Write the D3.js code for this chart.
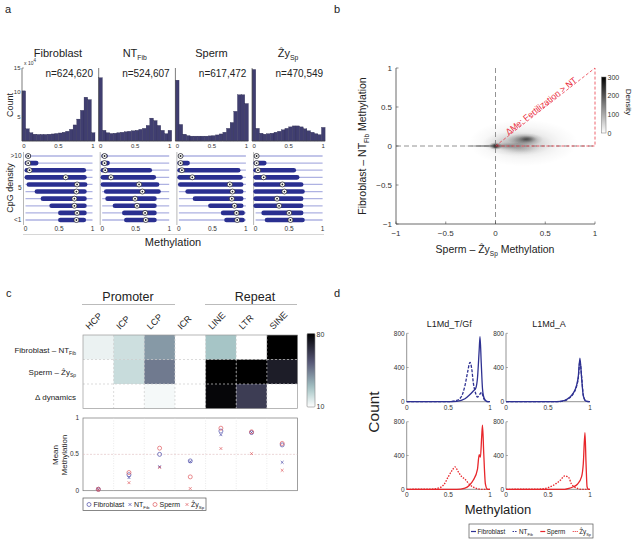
<!DOCTYPE html>
<html><head><meta charset="utf-8">
<script src="https://cdn.jsdelivr.net/npm/d3@7"></script>
<style>body{margin:0;background:#fff} svg{display:block} text{font-family:"Liberation Sans",Arial,Helvetica,sans-serif}</style>
</head><body><svg id="c" width="637" height="541"></svg>
<script>
// ---------------- DATA ----------------
// Panel a : histograms (x10^4), 20 bins over 0..1
const histTicks = [5, 10, 15];
const histFib   = [10.3,2.5,1.7,1.4,1.35,1.35,1.35,1.4,1.45,1.55,1.65,1.8,2.0,2.4,3.3,4.5,6.3,9.0,8.5,1.7];
const histNT    = [13.0,2.2,1.7,1.55,1.6,1.7,1.8,1.9,2.0,2.1,2.2,2.4,2.6,3.2,4.7,4.2,3.2,2.2,1.5,2.2];
const histSperm = [12.5,3.4,1.4,1.1,1.0,1.0,1.0,1.0,1.0,1.05,1.1,1.25,1.45,1.8,2.6,3.8,6.1,9.5,9.5,7.7];
const histZy    = [14.7,2.6,1.6,1.4,1.5,1.6,1.8,2.0,2.3,2.6,2.9,3.1,3.1,2.9,2.5,2.1,1.8,1.5,1.3,2.8];
const histN     = ["n=624,620","n=524,607","n=617,472","n=470,549"];
// Panel a : CpG density rows (top ">10" .. bottom "<1"): [low, high, median]
const cpgLabels = [">10","5","<1"];
const cpgFib   = [[0.03,0.05,0.04],[0.02,0.16,0.04],[0.02,0.87,0.06],[0.02,0.88,0.6],[0.05,0.89,0.77],[0.17,0.88,0.76],[0.26,0.88,0.73],[0.39,0.88,0.73],[0.52,0.88,0.77],[0.52,0.87,0.76]];
const cpgNT    = [[0.02,0.05,0.035],[0.01,0.08,0.035],[0.01,0.71,0.045],[0.01,0.77,0.13],[0.01,0.82,0.55],[0.06,0.84,0.6],[0.08,0.78,0.49],[0.19,0.78,0.52],[0.33,0.78,0.64],[0.36,0.78,0.65]];
const cpgSperm = [[0.02,0.03,0.025],[0.01,0.13,0.025],[0.01,0.885,0.045],[0.01,0.92,0.2],[0.02,0.93,0.76],[0.13,0.93,0.8],[0.24,0.93,0.79],[0.47,0.93,0.83],[0.66,0.95,0.86],[0.71,0.95,0.87]];
const cpgZy    = [[0.01,0.02,0.015],[0.0,0.13,0.015],[0.0,0.57,0.035],[0.0,0.62,0.12],[0.0,0.68,0.4],[0.0,0.7,0.43],[0.0,0.68,0.32],[0.0,0.68,0.35],[0.12,0.68,0.5],[0.17,0.7,0.52]];
// Panel b : density blobs  [x, y, rx, ry, density]
const bTicks = [-1,-0.5,0,0.5,1];
const densityBlobs = [
  [0.28,0.04,0.55,0.30,45],
  [0.22,0.03,0.36,0.16,70],
  [0.25,-0.03,0.20,0.08,40],
  [0.30,0.085,0.18,0.08,140],
  [0.32,0.09,0.09,0.045,100],
  [0.10,0.0,0.22,0.05,80],
  [-0.12,0.0,0.22,0.018,170],
  [0.0,0.0,0.07,0.05,250],
  [0.0,0.0,0.03,0.03,300]
];
const densityTicks = [0,100,200,300];
// Panel c : heatmap
const hmCols = ["HCP","ICP","LCP","ICR","LINE","LTR","SINE"];
const hmFibNT    = [14, 20, 38, null, 28, null, 80];
const hmSpermZy  = [null, 21, 45, null, 80, 80, 71];
const hmDelta    = [null, null, 12, null, 78, 61, null];
const hmTicks = [10, 80];
// Panel c : mean methylation
const dotFib   = [0.02, 0.22, 0.50, 0.41, 0.82, 0.80, 0.63];
const dotNT    = [0.02, 0.18, 0.33, 0.40, 0.77, 0.80, 0.39];
const dotSperm = [0.02, 0.25, 0.585, 0.19, 0.86, 0.81, 0.65];
const dotZy    = [0.01, 0.11, 0.32, 0.03, 0.58, 0.51, 0.28];
const dotTicks = [0, 0.5, 1];
// Panel d : methylation count profiles [methylation, count]
const dTitles = ["L1Md_T/Gf","L1Md_A"];
const dTfFib   = [[0,0],[0.5,0],[0.6,5],[0.7,35],[0.75,75],[0.8,125],[0.83,160],[0.85,280],[0.87,600],[0.88,760],[0.895,450],[0.91,150],[0.93,40],[0.96,5],[1,0]];
const dTfNT    = [[0,0],[0.5,0],[0.6,15],[0.65,50],[0.7,190],[0.73,340],[0.76,460],[0.78,390],[0.8,220],[0.83,90],[0.85,55],[0.88,90],[0.9,110],[0.92,50],[0.95,5],[1,0]];
const dAFib    = [[0,0],[0.6,0],[0.7,15],[0.75,45],[0.8,100],[0.84,190],[0.86,290],[0.88,510],[0.9,280],[0.92,70],[0.95,8],[1,0]];
const dANT     = [[0,0],[0.6,0],[0.7,12],[0.75,40],[0.8,90],[0.84,180],[0.86,270],[0.88,470],[0.9,300],[0.92,80],[0.95,8],[1,0]];
const dTfSperm = [[0,0],[0.6,0],[0.7,15],[0.75,45],[0.8,110],[0.85,240],[0.87,410],[0.885,380],[0.9,620],[0.91,760],[0.925,420],[0.945,60],[0.97,0],[1,0]];
const dTfZy    = [[0,0],[0.3,3],[0.4,20],[0.45,60],[0.5,150],[0.55,230],[0.58,265],[0.62,205],[0.66,150],[0.7,120],[0.75,60],[0.8,25],[0.85,8],[0.9,0],[1,0]];
const dASperm  = [[0,0],[0.7,0],[0.75,10],[0.8,30],[0.85,60],[0.9,150],[0.92,300],[0.94,670],[0.953,300],[0.965,30],[0.98,0],[1,0]];
const dAZy     = [[0,0],[0.4,3],[0.5,20],[0.6,70],[0.65,110],[0.7,160],[0.73,150],[0.75,135],[0.78,60],[0.8,40],[0.85,10],[0.9,0],[1,0]];
const dXTicks = [0, 0.5, 1];
const dYTicks = [0, 400, 800];

// ---------------- HELPERS ----------------
const svg = d3.select("#c");
const AX = "#444";
const BLUE = "#2e3192", RED = "#e8262b";
function rich(parent, x, y, parts, size, anchor, fill) {
  const t = parent.append("text").attr("x", x).attr("y", y).attr("font-size", size)
    .attr("text-anchor", anchor || "start").attr("fill", fill || "#222");
  let inSub = false;
  parts.forEach(p => {
    const ts = t.append("tspan").text(p.t);
    if (p.sub && !inSub) { ts.attr("font-size", size * 0.62).attr("dy", size * 0.28); inSub = true; }
    else if (p.sub) { ts.attr("font-size", size * 0.62); }
    else if (!p.sub && inSub) { ts.attr("dy", -size * 0.28); inSub = false; }
  });
  return t;
}
function lbl(x, y, txt, size, anchor, extra) {
  const t = svg.append("text").attr("x", x).attr("y", y).attr("font-size", size)
    .attr("text-anchor", anchor || "start").attr("fill", "#222").text(txt);
  if (extra) extra(t);
  return t;
}
function boneRev(t) { // reversed MATLAB bone colormap: t=0 white, t=1 black
  const u = 1 - Math.max(0, Math.min(1, t));
  const cl = v => Math.max(0, Math.min(1, v));
  const hr = cl(u / 0.375), hg = cl((u - 0.375) / 0.375), hb = cl((u - 0.75) / 0.25);
  const r = (7 * u + hb) / 8, g = (7 * u + hg) / 8, b = (7 * u + hr) / 8;
  return d3.rgb(r * 255, g * 255, b * 255).toString();
}
const defs = svg.append("defs");

// panel letters
lbl(5, 13, "a", 11); lbl(334, 13, "b", 11); lbl(6, 297, "c", 11); lbl(334, 297, "d", 11);

// ---------------- PANEL A ----------------
const aPanels = [
  {title: [{t: "Fibroblast"}], bins: histFib, cpg: cpgFib},
  {title: [{t: "NT"}, {t: "Fib", sub: true}], bins: histNT, cpg: cpgNT},
  {title: [{t: "Sperm"}], bins: histSperm, cpg: cpgSperm},
  {title: [{t: "Ẑy"}, {t: "Sp", sub: true}], bins: histZy, cpg: cpgZy}
];
const hy = d3.scaleLinear([0, 15], [141, 68]);
const cy = d3.scaleLinear([0, 9], [156, 220]);
aPanels.forEach((p, i) => {
  const x0 = 22 + i * 76.7;
  const hx = d3.scaleLinear([0, 1], [x0, x0 + 73]);
  const g = svg.append("g");
  rich(g, x0 + 36, 57, p.title, 11, "middle");
  g.append("text").attr("x", x0 + 71).attr("y", 77).attr("font-size", 10).attr("text-anchor", "end")
    .attr("fill", "#222").text(histN[i]);
  g.selectAll("rect.bar").data(p.bins).join("rect")
    .attr("x", (d, k) => hx(k * 0.05)).attr("width", hx(0.05) - hx(0))
    .attr("y", d => hy(d)).attr("height", d => hy(0) - hy(d))
    .attr("fill", "#403e70").attr("stroke", "#26254a").attr("stroke-width", 0.3);
  g.append("line").attr("x1", x0).attr("x2", x0).attr("y1", 68).attr("y2", 141).attr("stroke", AX).attr("stroke-width", 0.7);
  g.append("line").attr("x1", x0).attr("x2", x0 + 73).attr("y1", 141).attr("y2", 141).attr("stroke", AX).attr("stroke-width", 0.7);
  g.selectAll("text.xt").data([0, 0.5, 1]).join("text")
    .attr("x", d => hx(d) + (d === 0 ? 2 : d === 1 ? -2 : 0)).attr("y", 148).attr("font-size", 6)
    .attr("text-anchor", "middle").attr("fill", "#333").text(d => d);
  if (i === 0) {
    g.selectAll("text.yt").data(histTicks).join("text")
      .attr("x", x0 - 1.5).attr("y", d => hy(d) + 2).attr("font-size", 6).attr("text-anchor", "end")
      .attr("fill", "#333").text(d => d);
    g.selectAll("line.yt").data(histTicks).join("line")
      .attr("x1", x0).attr("x2", x0 + 2).attr("y1", d => hy(d)).attr("y2", d => hy(d)).attr("stroke", AX).attr("stroke-width", 0.5);
    const t = g.append("text").attr("x", x0 + 2).attr("y", 65).attr("font-size", 5).attr("fill", "#333");
    t.append("tspan").text("x 10");
    t.append("tspan").text("4").attr("dy", -3).attr("font-size", 4.5);
  }
  // CpG density rows
  const cx = d3.scaleLinear([0, 1], [x0 + 3.5, x0 + 70.5]);
  g.append("line").attr("x1", x0 + 1.5).attr("x2", x0 + 1.5).attr("y1", 152).attr("y2", 225).attr("stroke", "#999").attr("stroke-width", 0.7);
  g.selectAll("line.thin").data(p.cpg).join("line")
    .attr("x1", cx(0)).attr("x2", cx(1)).attr("y1", (d, k) => cy(k)).attr("y2", (d, k) => cy(k))
    .attr("stroke", "#aeb2e2").attr("stroke-width", 1.3);
  g.selectAll("line.thick").data(p.cpg).join("line")
    .attr("x1", d => cx(d[0])).attr("x2", d => cx(d[1])).attr("y1", (d, k) => cy(k)).attr("y2", (d, k) => cy(k))
    .attr("stroke", "#2a2f90").attr("stroke-width", 4.6).attr("stroke-linecap", "round");
  g.selectAll("circle.med").data(p.cpg).join("circle")
    .attr("cx", d => cx(d[2])).attr("cy", (d, k) => cy(k)).attr("r", 2.5)
    .attr("fill", "#fff").attr("stroke", "#222").attr("stroke-width", 0.7);
  g.selectAll("circle.dot").data(p.cpg).join("circle")
    .attr("cx", d => cx(d[2])).attr("cy", (d, k) => cy(k)).attr("r", 0.9).attr("fill", "#222");
  g.selectAll("text.cxt").data([0, 0.5, 1]).join("text")
    .attr("x", d => cx(d)).attr("y", 231).attr("font-size", 6.5).attr("text-anchor", "middle")
    .attr("fill", "#333").text(d => d);
  if (i === 0) {
    g.selectAll("text.cyt").data(cpgLabels).join("text")
      .attr("x", x0 - 0.5).attr("y", (d, k) => [cy(0), cy(4.5), cy(9)][k] + 2.2).attr("font-size", 6.5)
      .attr("text-anchor", "end").attr("fill", "#333").text(d => d);
  }
});
svg.append("line").attr("x1", 23).attr("x2", 324).attr("y1", 234.5).attr("y2", 234.5).attr("stroke", "#ccc").attr("stroke-width", 0.8);
lbl(10, 105, "Count", 9, "middle", t => t.attr("transform", "rotate(-90,10,105)").attr("dy", 3));
lbl(10, 188, "CpG density", 9, "middle", t => t.attr("transform", "rotate(-90,10,188)").attr("dy", 3));
lbl(173, 246, "Methylation", 11, "middle");

// ---------------- PANEL B ----------------
const bx = d3.scaleLinear([-1, 1], [396, 595]);
const by = d3.scaleLinear([-1, 1], [224, 68]);
const gb = svg.append("g");
const grad = defs.append("radialGradient").attr("id", "blob");
grad.append("stop").attr("offset", "0%").attr("stop-color", "#000").attr("stop-opacity", 1);
grad.append("stop").attr("offset", "35%").attr("stop-color", "#000").attr("stop-opacity", 0.62);
grad.append("stop").attr("offset", "70%").attr("stop-color", "#000").attr("stop-opacity", 0.2);
grad.append("stop").attr("offset", "100%").attr("stop-color", "#000").attr("stop-opacity", 0);
defs.append("clipPath").attr("id", "bclip").append("rect").attr("x", 396).attr("y", 68).attr("width", 199).attr("height", 156);
const dens = d3.scaleLinear([0, 300], [0, 1]);
gb.append("g").attr("clip-path", "url(#bclip)").selectAll("ellipse").data(densityBlobs).join("ellipse")
  .attr("cx", d => bx(d[0])).attr("cy", d => by(d[1]))
  .attr("rx", d => bx(d[2]) - bx(0)).attr("ry", d => by(0) - by(d[3]))
  .attr("fill", "url(#blob)").attr("opacity", d => Math.min(1, dens(d[4])));
// dashed zero lines
gb.append("line").attr("x1", bx(0)).attr("x2", bx(0)).attr("y1", by(1)).attr("y2", by(-1))
  .attr("stroke", "#777").attr("stroke-width", 0.8).attr("stroke-dasharray", "5,3");
gb.append("line").attr("x1", bx(-1)).attr("x2", bx(1)).attr("y1", by(0)).attr("y2", by(0))
  .attr("stroke", "#777").attr("stroke-width", 0.8).attr("stroke-dasharray", "5,3");
// red triangle
gb.append("path").attr("d", d3.line()([[bx(0), by(0)], [bx(1), by(1)], [bx(1), by(0)], [bx(0), by(0)]]))
  .attr("fill", "none").attr("stroke", "#ea3a48").attr("stroke-width", 0.8).attr("stroke-dasharray", "3,2");
const ang = -Math.atan2(by(0) - by(1), bx(1) - bx(0)) * 180 / Math.PI;
const tx0 = bx(0.13), ty0 = by(0.13) - 0.5;
gb.append("text").attr("x", tx0).attr("y", ty0).attr("font-size", 8.6).attr("fill", "#ea2a3a")
  .attr("transform", `rotate(${ang},${tx0},${ty0})`).text("ΔMe: Fertilization > NT");
// axes
gb.append("line").attr("x1", 396).attr("x2", 396).attr("y1", 68).attr("y2", 224).attr("stroke", AX).attr("stroke-width", 0.8);
gb.append("line").attr("x1", 396).attr("x2", 595).attr("y1", 224).attr("y2", 224).attr("stroke", AX).attr("stroke-width", 0.8);
const fmt = d => (d < 0 ? "−" : "") + Math.abs(d);
gb.selectAll("text.bxt").data(bTicks).join("text").attr("x", d => bx(d)).attr("y", 236).attr("font-size", 8)
  .attr("text-anchor", "middle").attr("fill", "#333").text(fmt);
gb.selectAll("text.byt").data(bTicks).join("text").attr("x", 392).attr("y", d => by(d) + 3).attr("font-size", 8)
  .attr("text-anchor", "end").attr("fill", "#333").text(fmt);
gb.selectAll("line.bxt").data(bTicks).join("line").attr("x1", d => bx(d)).attr("x2", d => bx(d)).attr("y1", 224).attr("y2", 221.5).attr("stroke", AX).attr("stroke-width", 0.6);
gb.selectAll("line.byt").data(bTicks).join("line").attr("x1", 396).attr("x2", 398.5).attr("y1", d => by(d)).attr("y2", d => by(d)).attr("stroke", AX).attr("stroke-width", 0.6);
rich(gb, 495, 253, [{t: "Sperm – Ẑy"}, {t: "Sp", sub: true}, {t: " Methylation"}], 10.5, "middle");
rich(gb, 0, 0, [{t: "Fibroblast – NT"}, {t: "Fib", sub: true}, {t: " Methylation"}], 10.5, "middle")
  .attr("transform", "translate(366,146) rotate(-90)");
// density colorbar
const lgB = defs.append("linearGradient").attr("id", "gbar").attr("x1", 0).attr("y1", 1).attr("x2", 0).attr("y2", 0);
lgB.append("stop").attr("offset", "0%").attr("stop-color", "#fff");
lgB.append("stop").attr("offset", "100%").attr("stop-color", "#000");
const dcy = d3.scaleLinear([0, 300], [133, 77]);
gb.append("rect").attr("x", 601.5).attr("y", 77).attr("width", 4.5).attr("height", 56).attr("fill", "url(#gbar)")
  .attr("stroke", "#777").attr("stroke-width", 0.5);
gb.selectAll("text.cb").data(densityTicks).join("text").attr("x", 607.5).attr("y", d => dcy(d) + 2.5)
  .attr("font-size", 7).attr("fill", "#333").text(d => d);
lbl(0, 0, "Density", 8, "middle", t => t.attr("transform", "translate(626,102) rotate(90)"));

// ---------------- PANEL C ----------------
const hx = d3.scaleBand(hmCols, [83, 297.5]);
const hmRowsData = [hmFibNT, hmSpermZy, hmDelta];
const hyc = d3.scaleBand([0, 1, 2], [335, 408.5]);
const gc = svg.append("g");
lbl(128, 301, "Promoter", 12.5, "middle");
lbl(255, 301, "Repeat", 12.5, "middle");
gc.append("line").attr("x1", 82).attr("x2", 175).attr("y1", 304.5).attr("y2", 304.5).attr("stroke", "#aaa").attr("stroke-width", 0.8);
gc.append("line").attr("x1", 205).attr("x2", 297).attr("y1", 304.5).attr("y2", 304.5).attr("stroke", "#aaa").attr("stroke-width", 0.8);
hmCols.forEach(c => {
  const x = hx(c) + hx.bandwidth() / 2 - 9, y = 330;
  gc.append("text").attr("x", x).attr("y", y).attr("font-size", 9).attr("fill", "#222")
    .attr("transform", `rotate(-45,${x},${y})`).text(c);
});
const hmColor = v => v == null ? "#fff" : boneRev((v - 10) / 70);
hmRowsData.forEach((row, r) => {
  gc.selectAll(null).data(row).join("rect")
    .attr("x", (d, k) => hx(hmCols[k])).attr("y", hyc(r)).attr("width", hx.bandwidth() + 0.3).attr("height", hyc.bandwidth() + 0.3)
    .attr("fill", d => hmColor(d));
});
// grid
gc.selectAll("line.vg").data(hmCols.slice(1)).join("line").attr("x1", d => hx(d)).attr("x2", d => hx(d))
  .attr("y1", 335).attr("y2", 408.5).attr("stroke", "#ccc").attr("stroke-width", 0.7).attr("stroke-dasharray", "2,2");
gc.selectAll("line.hg").data([1, 2]).join("line").attr("x1", 83).attr("x2", 297.5).attr("y1", d => hyc(d)).attr("y2", d => hyc(d))
  .attr("stroke", "#ccc").attr("stroke-width", 0.7).attr("stroke-dasharray", "2,2");
gc.append("rect").attr("x", 83).attr("y", 335).attr("width", 214.5).attr("height", 73.5).attr("fill", "none").attr("stroke", "#999").attr("stroke-width", 0.7);
rich(gc, 76, 353, [{t: "Fibroblast – NT"}, {t: "Fib", sub: true}], 8, "end");
rich(gc, 76, 375, [{t: "Sperm – Ẑy"}, {t: "Sp", sub: true}], 8, "end");
rich(gc, 76, 399.5, [{t: "Δ dynamics"}], 8, "end");
// heatmap colorbar
const lgC = defs.append("linearGradient").attr("id", "cbar").attr("x1", 0).attr("y1", 1).attr("x2", 0).attr("y2", 0);
d3.range(0, 1.001, 0.1).forEach(t => lgC.append("stop").attr("offset", (t * 100) + "%").attr("stop-color", boneRev(t)));
gc.append("rect").attr("x", 307).attr("y", 333.5).attr("width", 8).attr("height", 73.5).attr("rx", 1)
  .attr("fill", "url(#cbar)").attr("stroke", "#888").attr("stroke-width", 0.6);
const ccy = d3.scaleLinear([10, 80], [407, 333.5]);
gc.selectAll("text.cct").data(hmTicks).join("text").attr("x", 316.5).attr("y", d => ccy(d) + (d === 80 ? 3.5 : 1.5))
  .attr("font-size", 7).attr("fill", "#333").text(d => d);
// dot plot
const dy = d3.scaleLinear([0, 1], [490.7, 418]);
gc.append("rect").attr("x", 83).attr("y", 418).attr("width", 214.5).attr("height", 72.7).attr("fill", "none").attr("stroke", "#777").attr("stroke-width", 0.7);
gc.selectAll("line.dvg").data(hmCols.slice(1)).join("line").attr("x1", d => hx(d)).attr("x2", d => hx(d))
  .attr("y1", 418).attr("y2", 490.7).attr("stroke", "#ddd").attr("stroke-width", 0.6).attr("stroke-dasharray", "1,1.5");
gc.append("line").attr("x1", 83).attr("x2", 297.5).attr("y1", dy(0.5)).attr("y2", dy(0.5)).attr("stroke", "#dcb8bc").attr("stroke-width", 0.6).attr("stroke-dasharray", "2,1.5");
gc.selectAll("text.dyt").data(dotTicks).join("text").attr("x", 79).attr("y", d => dy(d) + 2).attr("font-size", 6.5)
  .attr("text-anchor", "end").attr("fill", "#333").text(d => d);
lbl(0, 0, "Mean", 8, "middle", t => t.attr("transform", "translate(58,455) rotate(-90)"));
lbl(0, 0, "Methylation", 8, "middle", t => t.attr("transform", "translate(66.5,455) rotate(-90)"));
const BLU2 = "#4a4aa8", RED2 = "#e05a5e";
const cxc = k => hx(hmCols[k]) + hx.bandwidth() / 2;
function circles(data, col) {
  gc.selectAll(null).data(data).join("circle").attr("cx", (d, k) => cxc(k)).attr("cy", d => dy(d)).attr("r", 2)
    .attr("fill", "none").attr("stroke", col).attr("stroke-width", 0.7);
}
function crosses(data, col) {
  gc.selectAll(null).data(data).join("path")
    .attr("d", (d, k) => { const x = cxc(k), y = dy(d), s = 1.4; return `M${x - s},${y - s}L${x + s},${y + s}M${x - s},${y + s}L${x + s},${y - s}`; })
    .attr("stroke", col).attr("stroke-width", 0.7);
}
circles(dotFib, BLU2); crosses(dotNT, BLU2); circles(dotSperm, RED2); crosses(dotZy, RED2);
// legend
gc.append("rect").attr("x", 83).attr("y", 498).attr("width", 123).attr("height", 12.5).attr("fill", "#fff").attr("stroke", "#555").attr("stroke-width", 0.7);
const ly = 504.5;
gc.append("circle").attr("cx", 89).attr("cy", ly).attr("r", 2).attr("fill", "none").attr("stroke", BLU2).attr("stroke-width", 0.7);
rich(gc, 93.5, ly + 2.5, [{t: "Fibroblast"}], 7, "start");
gc.append("path").attr("d", `M128.6,${ly - 1.4}L131.4,${ly + 1.4}M128.6,${ly + 1.4}L131.4,${ly - 1.4}`).attr("stroke", BLU2).attr("stroke-width", 0.7);
rich(gc, 134, ly + 2.5, [{t: "NT"}, {t: "Fib", sub: true}], 7, "start");
gc.append("circle").attr("cx", 155).attr("cy", ly).attr("r", 2).attr("fill", "none").attr("stroke", RED2).attr("stroke-width", 0.7);
rich(gc, 159.5, ly + 2.5, [{t: "Sperm"}], 7, "start");
gc.append("path").attr("d", `M185.6,${ly - 1.4}L188.4,${ly + 1.4}M185.6,${ly + 1.4}L188.4,${ly - 1.4}`).attr("stroke", RED2).attr("stroke-width", 0.7);
rich(gc, 191, ly + 2.5, [{t: "Ẑy"}, {t: "Sp", sub: true}], 7, "start");

// ---------------- PANEL D ----------------
const gd = svg.append("g");
const dPanels = [
  {col: 0, row: 0, series: [[dTfFib, BLUE, null], [dTfNT, BLUE, "3,1.5"]]},
  {col: 1, row: 0, series: [[dAFib, BLUE, null], [dANT, BLUE, "3,1.5"]]},
  {col: 0, row: 1, series: [[dTfSperm, RED, null], [dTfZy, RED, "1.5,1.3"]]},
  {col: 1, row: 1, series: [[dASperm, RED, null], [dAZy, RED, "1.5,1.3"]]}
];
const dxR = [[406.7, 490], [506, 590]];
const dyR = [[401.7, 333.3], [489.3, 421.7]];
dPanels.forEach(p => {
  const x = d3.scaleLinear([0, 1], dxR[p.col]);
  const y = d3.scaleLinear([0, 800], dyR[p.row]);
  const g = gd.append("g");
  g.append("line").attr("x1", x(0)).attr("x2", x(0)).attr("y1", y(0)).attr("y2", y(800)).attr("stroke", "#666").attr("stroke-width", 0.7);
  g.append("line").attr("x1", x(0)).attr("x2", x(1)).attr("y1", y(0)).attr("y2", y(0)).attr("stroke", "#666").attr("stroke-width", 0.7);
  g.selectAll("text.xt").data(dXTicks).join("text").attr("x", d => x(d)).attr("y", y(0) + 8).attr("font-size", 6.5)
    .attr("text-anchor", "middle").attr("fill", "#333").text(d => d);
  g.selectAll("text.yt").data(dYTicks).join("text").attr("x", x(0) - 2).attr("y", d => y(d) + 2.2).attr("font-size", 6.5)
    .attr("text-anchor", "end").attr("fill", "#333").text(d => d);
  g.selectAll("line.yt").data(dYTicks).join("line").attr("x1", x(0)).attr("x2", x(0) + 2).attr("y1", d => y(d)).attr("y2", d => y(d)).attr("stroke", "#666").attr("stroke-width", 0.5);
  const line = d3.line().x(d => x(d[0])).y(d => y(d[1])).curve(d3.curveMonotoneX);
  p.series.forEach(s => {
    g.append("path").attr("d", line(s[0])).attr("fill", "none").attr("stroke", s[1]).attr("stroke-width", 1.3)
      .attr("stroke-dasharray", s[2]);
  });
  if (p.row === 0) lbl((dxR[p.col][0] + dxR[p.col][1]) / 2 + 1, 327, dTitles[p.col], 9, "middle");
});
lbl(0, 0, "Count", 15.5, "middle", t => t.attr("transform", "translate(379,412) rotate(-90)"));
lbl(498, 514, "Methylation", 13, "middle");
// legend: items laid out with measured text widths, spread evenly in the box
gd.append("rect").attr("x", 469).attr("y", 524).attr("width", 124).attr("height", 14).attr("fill", "#fff").attr("stroke", "#555").attr("stroke-width", 0.7);
const dly = 531.5;
const legItems = [
  {col: BLUE, dash: null, parts: [{t: "Fibroblast"}]},
  {col: BLUE, dash: "1.5,1", parts: [{t: "NT"}, {t: "Fib", sub: true}]},
  {col: RED, dash: null, parts: [{t: "Sperm"}]},
  {col: RED, dash: "1,1", parts: [{t: "Ẑy"}, {t: "Sp", sub: true}]}
];
const LEN = 5, PADL = 1.5, FS = 6.3;
const texts = legItems.map(it => rich(gd, 0, dly + 2.3, it.parts, FS, "start"));
const widths = texts.map(t => t.node().getComputedTextLength());
const used = d3.sum(widths) + legItems.length * (LEN + PADL);
const gap = (124 - 4 - used) / (legItems.length - 1);
let cur = 471;
legItems.forEach((it, k) => {
  gd.append("line").attr("x1", cur).attr("x2", cur + LEN).attr("y1", dly).attr("y2", dly).attr("stroke", it.col).attr("stroke-width", 1.2).attr("stroke-dasharray", it.dash);
  texts[k].attr("x", cur + LEN + PADL);
  cur += LEN + PADL + widths[k] + gap;
});
</script></body></html>
